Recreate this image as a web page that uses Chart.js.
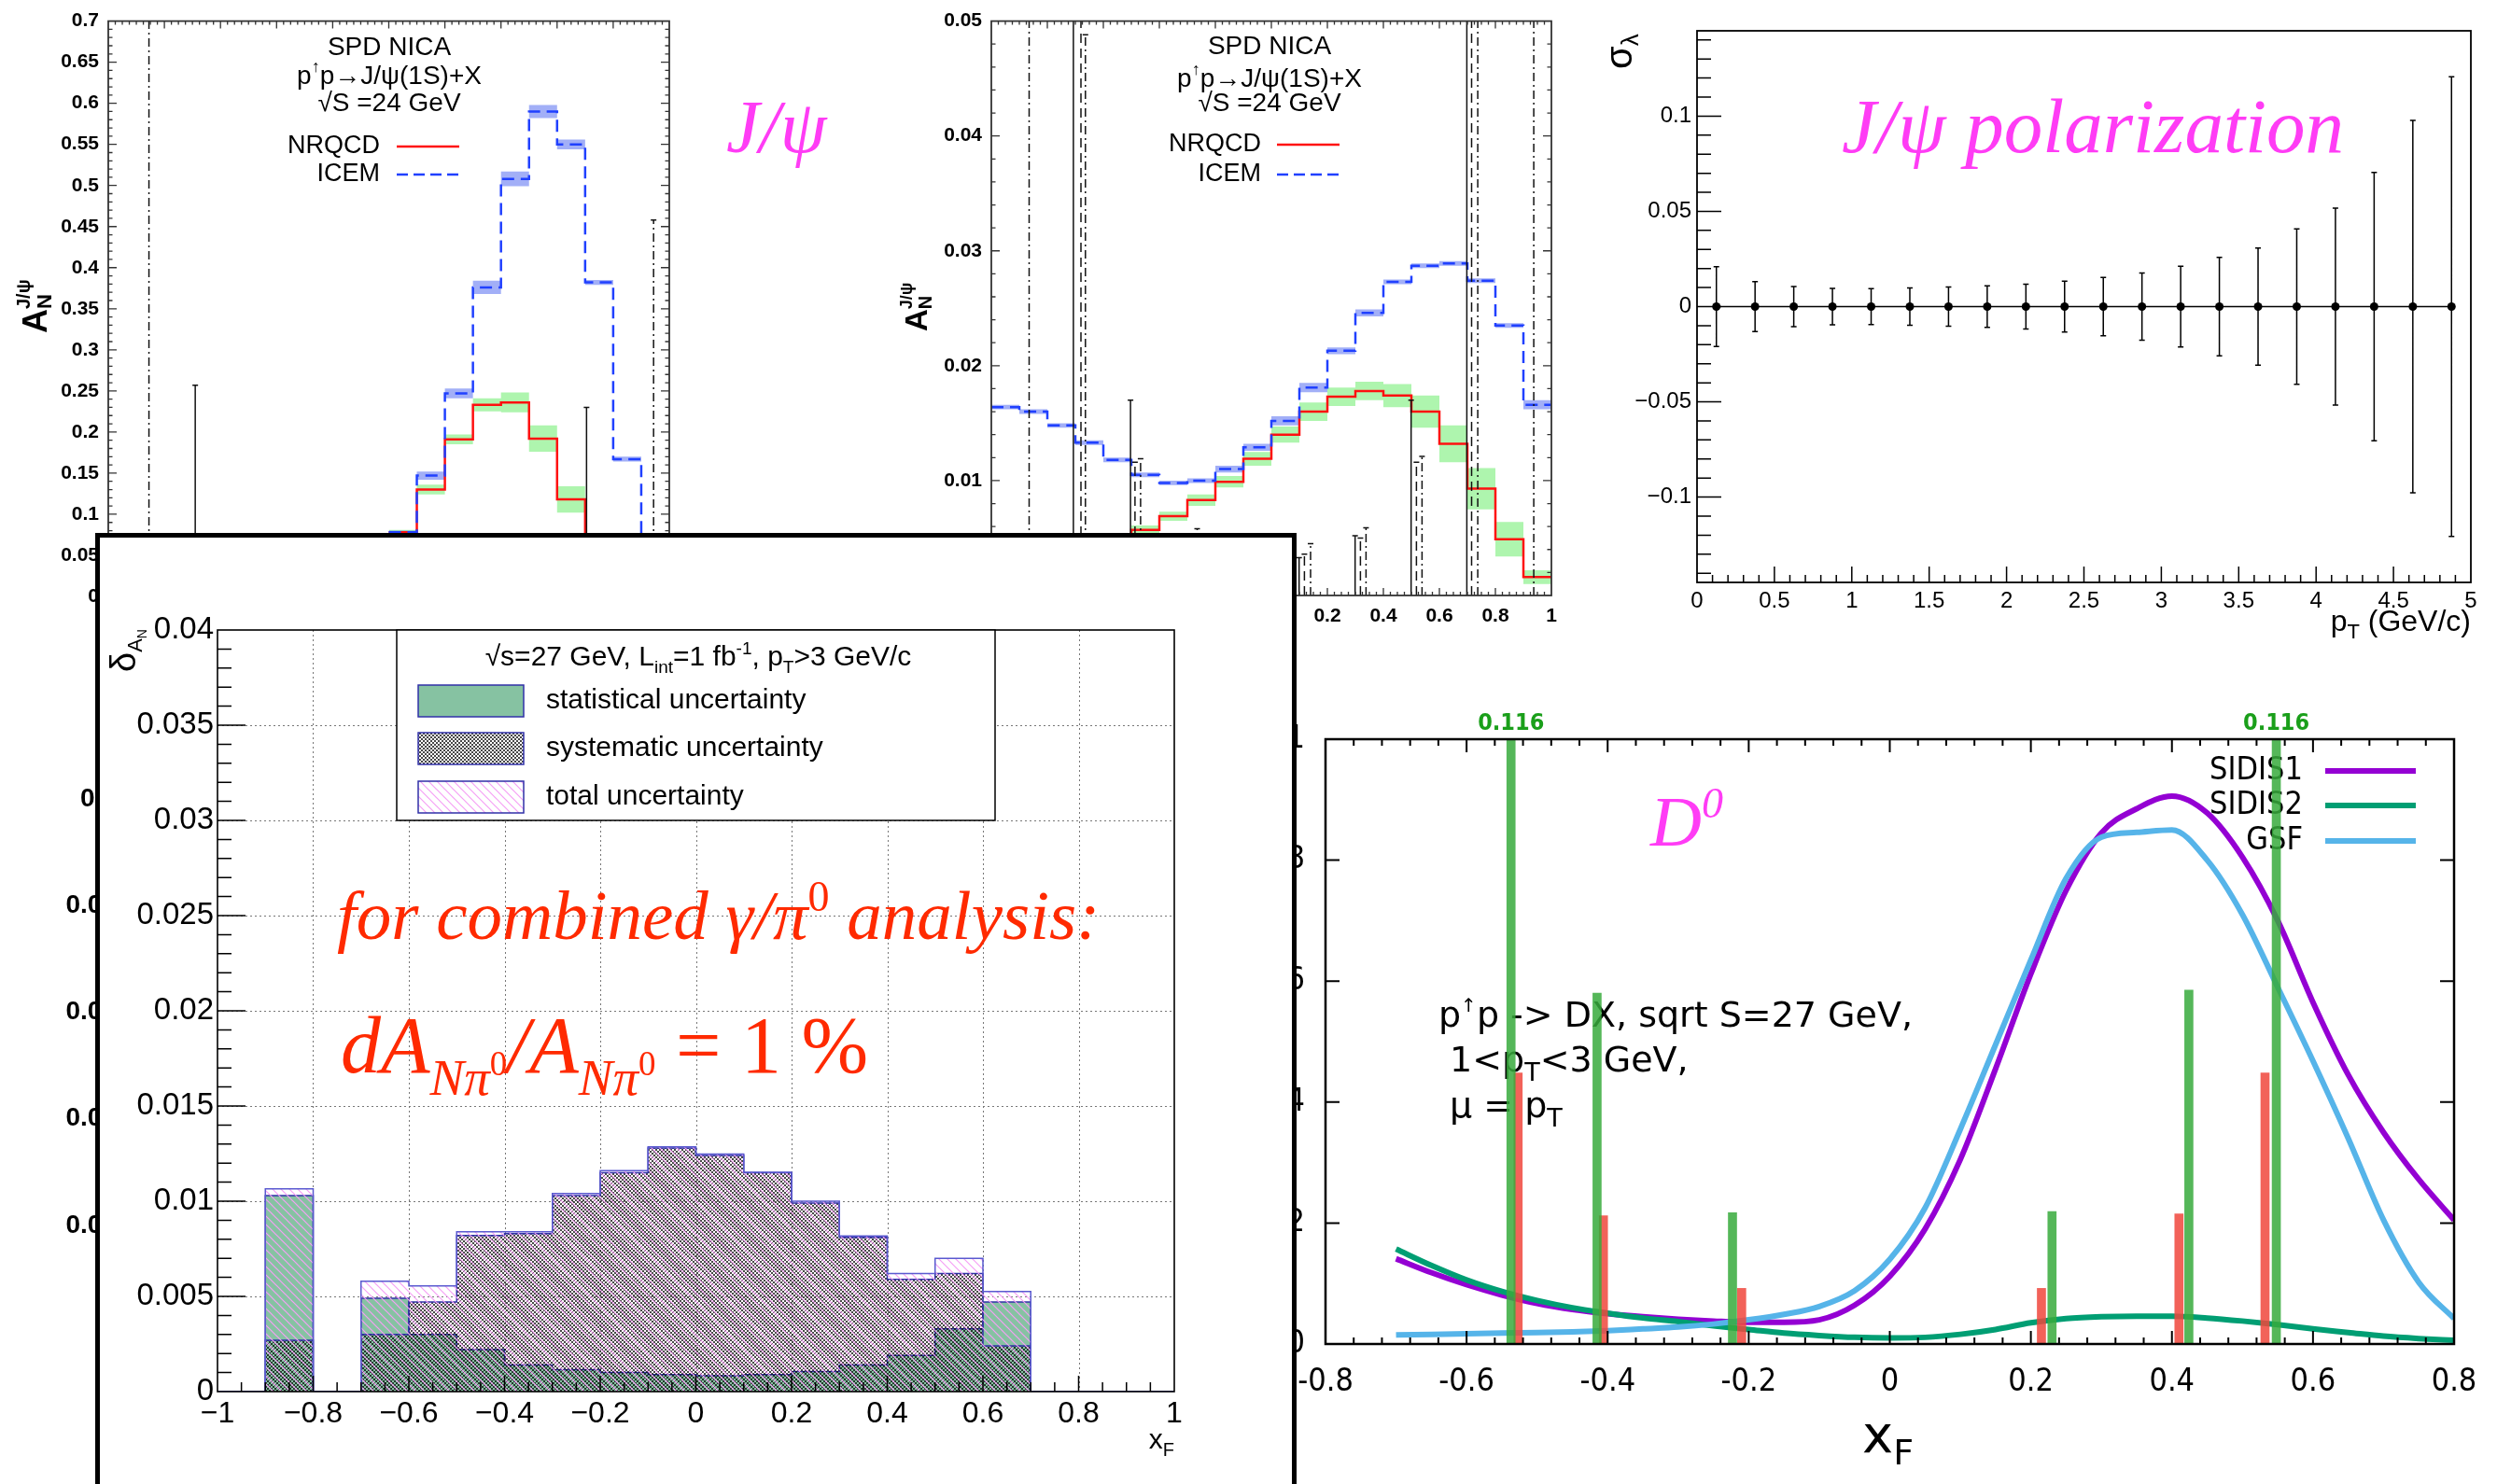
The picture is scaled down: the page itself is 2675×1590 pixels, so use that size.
<!DOCTYPE html>
<html>
<head>
<meta charset="utf-8">
<title>SPD NICA asymmetries</title>
<script src="https://cdn.jsdelivr.net/npm/chart.js@4.4.0/dist/chart.umd.min.js"></script>
<style>
  html, body { margin: 0; padding: 0; background: #fff; }
  body { position: relative; width: 2675px; height: 1590px; overflow: hidden; }
  canvas { position: absolute; }
  #uncBox { position: absolute; left: 102px; top: 571px; width: 1287px; height: 1030px;
            border: 5px solid #000; box-sizing: border-box; background: #fff; }
  #uncBox canvas { left: 0; top: 0; }
</style>
</head>
<body>
<canvas id="under"></canvas>
<canvas id="jpsiA"></canvas>
<canvas id="jpsiB"></canvas>
<canvas id="pol"></canvas>
<canvas id="dmeson"></canvas>
<div id="uncBox"><canvas id="unc"></canvas></div>
<script>
const SANS = "'Liberation Sans', Arial, sans-serif";
const GNU = "'DejaVu Sans Condensed', 'DejaVu Sans', sans-serif";
const GNUW = "'DejaVu Sans', sans-serif";
const SERIF = "'Liberation Serif', 'DejaVu Serif', serif";
const PINK = '#ff3cf5';

// ---- J/psi A_N, NRQCD vs ICEM, left panel (bin low edges, width 0.1) ----
const binsA = [0.0, 0.1, 0.2, 0.3, 0.4, 0.5, 0.6, 0.7, 0.8, 0.9];
const icemA = [0.078, 0.147, 0.247, 0.376, 0.508, 0.590, 0.550, 0.382, 0.167, 0.040];
const icemErrA = [0.002, 0.005, 0.006, 0.008, 0.009, 0.008, 0.006, 0.003, 0.003, 0.002];
const nrqcdA = [0.078, 0.130, 0.191, 0.233, 0.236, 0.192, 0.118, 0.050, 0.030, 0.020];
const nrqcdErrA = [0.003, 0.006, 0.006, 0.008, 0.012, 0.016, 0.016, 0.008, 0.004, 0.002];
const barXA = [-0.855, -0.69, 0.705, 0.944];
const barTopA = [0.70, 0.257, 0.230, 0.458];
const barStyleA = ['dashdot', 'solid', 'solid', 'dashdot'];

// ---- J/psi A_N, middle panel ----
const binsB = [-1.0, -0.9, -0.8, -0.7, -0.6, -0.5, -0.4, -0.3, -0.2, -0.1, 0.0, 0.1, 0.2, 0.3, 0.4, 0.5, 0.6, 0.7, 0.8, 0.9];
const icemB = [0.0164, 0.0160, 0.0148, 0.0133, 0.0118, 0.0105, 0.0098, 0.0100, 0.0110, 0.0129,
               0.0152, 0.0181, 0.0213, 0.0246, 0.0273, 0.0287, 0.0289, 0.0274, 0.0235, 0.0166];
const icemErrB = [0.0002, 0.0002, 0.0002, 0.0002, 0.0002, 0.0002, 0.0002, 0.0002, 0.0003, 0.0003,
                  0.0004, 0.0004, 0.0003, 0.0003, 0.0002, 0.0002, 0.0002, 0.0002, 0.0002, 0.0004];
const nrqcdBinsB = [-0.6, -0.5, -0.4, -0.3, -0.2, -0.1, 0.0, 0.1, 0.2, 0.3, 0.4, 0.5, 0.6, 0.7, 0.8, 0.9];
const nrqcdB = [0.0040, 0.0057, 0.0069, 0.0083, 0.0099, 0.0119, 0.0140, 0.0160, 0.0173, 0.0178,
                0.0174, 0.0160, 0.0132, 0.0093, 0.0049, 0.0016];
const nrqcdErrB = [0.0003, 0.0004, 0.0004, 0.0005, 0.0005, 0.0006, 0.0007, 0.0008, 0.0008, 0.0008,
                   0.0010, 0.0014, 0.0016, 0.0018, 0.0015, 0.0006];
const barXB = [-0.865, -0.707, -0.68, -0.664, -0.503, -0.487, -0.467, -0.265, 0.099, 0.118, 0.14,
               0.299, 0.318, 0.338, 0.499, 0.518, 0.538, 0.698, 0.715, 0.737, 0.937];
const barTopB = [0.05, 0.05, 0.05, 0.0488, 0.0170, 0.0116, 0.0119, 0.0058, 0.0033, 0.0036, 0.0045,
                 0.0052, 0.0050, 0.0059, 0.0170, 0.0116, 0.0121, 0.05, 0.05, 0.05, 0.05];
const barStyleB = ['dashdot', 'solid', 'dash', 'dashdot', 'solid', 'dash', 'dashdot', 'dashdot', 'solid', 'dash', 'dashdot',
                   'solid', 'dash', 'dashdot', 'solid', 'dash', 'dashdot', 'solid', 'dash', 'dashdot', 'dashdot'];

// ---- J/psi polarization ----
const polPt = [0.125, 0.375, 0.625, 0.875, 1.125, 1.375, 1.625, 1.875, 2.125, 2.375,
               2.625, 2.875, 3.125, 3.375, 3.625, 3.875, 4.125, 4.375, 4.625, 4.875];
const polVal = [0, 0, 0, 0, 0, 0, 0, 0, 0, 0, 0, 0, 0, 0, 0, 0, 0, 0, 0, 0];
const polErr = [0.0210, 0.0131, 0.0105, 0.0096, 0.0094, 0.0098, 0.0103, 0.0109, 0.0118, 0.0133,
                0.0153, 0.0177, 0.0212, 0.0258, 0.0308, 0.0408, 0.0517, 0.0705, 0.0978, 0.1207];

// ---- pi0 / gamma uncertainties vs x_F (bin low edges, width 0.1) ----
const xfBins = [-1.0, -0.9, -0.8, -0.7, -0.6, -0.5, -0.4, -0.3, -0.2, -0.1, 0.0, 0.1, 0.2, 0.3, 0.4, 0.5, 0.6, 0.7, 0.8, 0.9];
const statUnc = [0, 0.0103, 0, 0.0049, 0.0030, 0.0022, 0.0014, 0.00115, 0.0010, 0.0009,
                 0.00083, 0.0009, 0.00105, 0.0014, 0.0019, 0.0033, 0.0047, 0, 0, 0];
const sysUnc = [0, 0.0027, 0, 0.0030, 0.0047, 0.0082, 0.0083, 0.0103, 0.0115, 0.0128,
                0.0124, 0.0115, 0.0099, 0.0081, 0.0059, 0.0062, 0.0024, 0, 0, 0];
const totUnc = [0, 0.01065, 0, 0.0058, 0.00555, 0.0084, 0.0084, 0.0104, 0.0116, 0.01286,
                0.01247, 0.01152, 0.0100, 0.00817, 0.0062, 0.0070, 0.00526, 0, 0, 0];

// ---- D0 A_N curves and projected errors ----
const d0X = [-0.70, -0.65, -0.60, -0.55, -0.50, -0.45, -0.40, -0.35, -0.30, -0.25, -0.20, -0.15, -0.10, -0.05,
             0.00, 0.05, 0.10, 0.15, 0.20, 0.25, 0.30, 0.35, 0.40, 0.45, 0.50, 0.55, 0.60, 0.65, 0.70, 0.75, 0.80];
const sidis1 = [0.0141, 0.0118, 0.0098, 0.0081, 0.0067, 0.0057, 0.0050, 0.0045, 0.0041, 0.0038, 0.0036, 0.0036, 0.0040, 0.0064,
                0.0112, 0.0190, 0.0305, 0.0455, 0.0612, 0.0750, 0.0845, 0.0885, 0.0906, 0.0878, 0.0805, 0.0700, 0.0565,
                0.0445, 0.0350, 0.0272, 0.0205];
const sidis2 = [0.0157, 0.0130, 0.0106, 0.0087, 0.0072, 0.0060, 0.0051, 0.0043, 0.0037, 0.0030, 0.0024, 0.0018, 0.0014, 0.0011,
                0.0010, 0.0011, 0.0016, 0.0024, 0.0035, 0.0042, 0.0045, 0.0046, 0.0046, 0.0043, 0.0038, 0.0032, 0.0025,
                0.0019, 0.0013, 0.0009, 0.0006];
const gsf = [0.0015, 0.0016, 0.0017, 0.0018, 0.0019, 0.0020, 0.0022, 0.0025, 0.0028, 0.0033, 0.0040, 0.0049, 0.0062, 0.0088,
             0.0140, 0.0225, 0.0355, 0.0495, 0.0635, 0.0770, 0.0838, 0.0846, 0.0850, 0.0800, 0.0710, 0.0590, 0.0468,
             0.0340, 0.0205, 0.0102, 0.0042];
const greenBarX = [-0.537, -0.415, -0.223, 0.230, 0.424, 0.548];
const greenBarY = [0.116, 0.058, 0.0217, 0.0219, 0.0585, 0.116];
const redBarX = [-0.527, -0.406, -0.210, 0.215, 0.410, 0.532];
const redBarY = [0.0448, 0.0212, 0.0092, 0.0092, 0.0215, 0.0448];

// tick positions
const seq = (a, b, step) => {
  const out = [];
  const n = Math.round((b - a) / step);
  for (let i = 0; i <= n; i++) out.push(+(a + i * step).toFixed(6));
  return out;
};
const plain = v => String(+(+v).toFixed(4));
const rootFmt = v => plain(v).replace('-', '\u2212');

// step outline: each value holds from its low edge to the next edge
function histPts(lo, width, vals) {
  const pts = lo.map((x, i) => ({ x, y: vals[i] }));
  pts.push({ x: +(lo[lo.length - 1] + width).toFixed(6), y: vals[vals.length - 1] });
  return pts;
}

function axis(s, isX, size) {
  return {
    type: 'linear', position: isX ? 'bottom' : 'left', min: s.min, max: s.max, offset: false,
    grid: { display: false, drawTicks: false, offset: false },
    border: { display: false },
    afterBuildTicks: sc => { sc.ticks = s.ticks.map(v => ({ value: v })); },
    afterFit: sc => { if (isX) sc.height = size; else sc.width = size; },
    ticks: { display: s.show !== false, autoSkip: false, maxRotation: 0, minRotation: 0,
             padding: s.pad || 0, color: '#000', font: s.font, callback: s.fmt || plain },
  };
}

function mount(id, box, area, scales, datasets, plugins) {
  const cv = document.getElementById(id);
  cv.width = box.w; cv.height = box.h;
  cv.style.width = box.w + 'px'; cv.style.height = box.h + 'px';
  if (!box.inside) { cv.style.left = box.x + 'px'; cv.style.top = box.y + 'px'; }
  return new Chart(cv, {
    type: 'line',
    data: { datasets },
    options: {
      responsive: false, animation: false, devicePixelRatio: 1,
      layout: { padding: { top: area.t - box.y, right: box.x + box.w - area.r, left: 0, bottom: 0 } },
      plugins: { legend: { display: false }, tooltip: { enabled: false } },
      scales: { x: axis(scales.x, true, box.y + box.h - area.b), y: axis(scales.y, false, area.l - box.x) },
    },
    plugins: plugins || [],
  });
}

function rich(ctx, parts, x, y, align) {
  let w = 0;
  for (const p of parts) { ctx.font = p[1]; if (!p[3]) w += ctx.measureText(p[0]).width; }
  let cx = align === 'center' ? x - w / 2 : align === 'right' ? x - w : x;
  ctx.textAlign = 'left';
  ctx.textBaseline = 'alphabetic';
  for (const p of parts) {
    ctx.font = p[1];
    ctx.fillText(p[0], cx, y + (p[2] || 0));
    if (!p[3]) cx += ctx.measureText(p[0]).width;
  }
}

function drawFrame(chart, f) {
  const { ctx, chartArea: a, scales: { x, y } } = chart;
  ctx.save();
  ctx.strokeStyle = f.color;
  ctx.lineWidth = f.tickWidth;
  ctx.setLineDash([]);
  ctx.beginPath();
  const mark = (x1, y1, x2, y2) => { ctx.moveTo(x1, y1); ctx.lineTo(x2, y2); };
  [[f.x.major, f.x.majLen], [f.x.minor, f.x.minLen]].forEach(([vals, len]) => {
    (vals || []).forEach(v => {
      const p = x.getPixelForValue(v);
      if (p <= a.left + 1 || p >= a.right - 1) return;
      if (f.x.bottom !== false) mark(p, a.bottom, p, a.bottom - len);
      if (f.x.top) mark(p, a.top, p, a.top + len);
    });
  });
  [[f.y.major, f.y.majLen], [f.y.minor, f.y.minLen]].forEach(([vals, len]) => {
    (vals || []).forEach(v => {
      const p = y.getPixelForValue(v);
      if (p <= a.top + 1 || p >= a.bottom - 1) return;
      if (f.y.left !== false) mark(a.left, p, a.left + len, p);
      if (f.y.right) mark(a.right, p, a.right - len, p);
    });
  });
  ctx.stroke();
  ctx.lineWidth = f.width;
  ctx.strokeRect(a.left, a.top, a.right - a.left, a.bottom - a.top);
  ctx.restore();
}

const DASH = { solid: [], dash: [10, 6], dashdot: [9, 4, 2, 4] };
function drawBars(chart, xs, tops, styles) {
  const { ctx, chartArea: a, scales: { x, y } } = chart;
  ctx.save();
  ctx.beginPath(); ctx.rect(a.left, a.top, a.right - a.left, a.bottom - a.top); ctx.clip();
  ctx.strokeStyle = '#111'; ctx.lineWidth = 1.5;
  xs.forEach((v, i) => {
    const px = x.getPixelForValue(v), py = y.getPixelForValue(tops[i]);
    ctx.setLineDash(DASH[styles[i]]);
    ctx.beginPath(); ctx.moveTo(px, a.bottom); ctx.lineTo(px, py); ctx.stroke();
    if (tops[i] < y.max) {
      ctx.setLineDash([]);
      ctx.beginPath(); ctx.moveTo(px - 3, py); ctx.lineTo(px + 3, py); ctx.stroke();
    }
  });
  ctx.restore();
}

function lineKey(ctx, label, textRight, yMid, x1, x2, color, dash, font) {
  ctx.font = font; ctx.fillStyle = '#000';
  ctx.textAlign = 'right'; ctx.textBaseline = 'middle';
  ctx.fillText(label, textRight, yMid);
  ctx.strokeStyle = color; ctx.lineWidth = 2.5; ctx.setLineDash(dash);
  ctx.beginPath(); ctx.moveTo(x1, yMid); ctx.lineTo(x2, yMid); ctx.stroke();
  ctx.setLineDash([]);
}

function jpsiDecor(box, t) {
  return {
    id: 'jpsiDecor',
    afterDatasetsDraw(chart) {
      drawBars(chart, t.barX, t.barTop, t.barStyle);
      drawFrame(chart, t.frame);
      const ctx = chart.ctx;
      ctx.save();
      ctx.translate(-box.x, -box.y);
      ctx.fillStyle = '#000';
      const f = `28px ${SANS}`, fs = `18px ${SANS}`;
      rich(ctx, [['SPD NICA', f]], t.cx, t.base[0], 'center');
      rich(ctx, [['p', f], ['\u2191', fs, -13], ['p\u2192J/\u03c8(1S)+X', f]], t.cx, t.base[1], 'center');
      rich(ctx, [['\u221aS =24 GeV', f]], t.cx, t.base[2], 'center');
      lineKey(ctx, 'NRQCD', t.keyX, t.keyY[0], t.keyLine[0], t.keyLine[1], '#ff1010', [], `27px ${SANS}`);
      lineKey(ctx, 'ICEM', t.keyX, t.keyY[1], t.keyLine[0], t.keyLine[1], '#2040ff', [12, 6], `27px ${SANS}`);
      ctx.save();
      ctx.translate(t.yt[0], t.yt[1]);
      ctx.rotate(-Math.PI / 2);
      ctx.fillStyle = '#000';
      rich(ctx, [['A', `bold ${t.ys}px ${SANS}`], ['N', `bold ${Math.round(t.ys * 0.62)}px ${SANS}`, 5, true],
                 ['J/\u03c8', `bold ${Math.round(t.ys * 0.55)}px ${SANS}`, -t.ys * 0.5]], 0, 0, 'left');
      ctx.restore();
      if (t.tag) {
        ctx.fillStyle = PINK;
        rich(ctx, [[t.tag, `italic 80px ${SERIF}`]], t.tagX, t.tagY, 'left');
      }
      ctx.restore();
    },
  };
}

function band(lo, width, vals, errs, color) {
  return [
    { data: histPts(lo, width, vals.map((v, i) => v + errs[i])), stepped: 'before', borderWidth: 0,
      borderColor: 'transparent', pointRadius: 0, fill: '+1', backgroundColor: color },
    { data: histPts(lo, width, vals.map((v, i) => v - errs[i])), stepped: 'before', borderWidth: 0,
      borderColor: 'transparent', pointRadius: 0, fill: false },
  ];
}

const TICK_TOP = { family: SANS, size: 21, weight: 'bold' };

// ---------- chart hidden under the framed panel (only its labels peek out) ----------
const boxU = { x: 0, y: 780, w: 700, h: 760 };
mount('under', boxU, { l: 140, t: 856, r: 680, b: 1427 }, {
  x: { min: -1, max: 1, ticks: [], show: false },
  y: { min: 0, max: 0.1, ticks: seq(0, 0.1, 0.02), pad: 15, font: { family: SANS, size: 28, weight: 'bold' } },
}, []);

// ---------- top-left J/psi ----------
const boxA = { x: 0, y: 0, w: 940, h: 700 };
const topFrame = (ymax, ymaj, ymin) => ({
  color: '#333', width: 1.8, tickWidth: 1.3,
  x: { major: seq(-1, 1, 0.2), minor: seq(-1, 1, 0.025), majLen: 8, minLen: 4, top: true },
  y: { major: seq(0, ymax, ymaj), minor: seq(0, ymax, ymin), majLen: 9, minLen: 4.5, right: true },
});
mount('jpsiA', boxA, { l: 116, t: 17, r: 717, b: 639 }, {
  x: { min: -1, max: 1, ticks: seq(-1, 1, 0.2), pad: 10, font: TICK_TOP },
  y: { min: 0, max: 0.7, ticks: seq(0, 0.7, 0.05), pad: 10, font: TICK_TOP },
}, [
  { data: histPts(binsA, 0.1, icemA), stepped: 'before', borderColor: '#2040ff', borderWidth: 2.5,
    borderDash: [13, 7], pointRadius: 0, fill: false },
  { data: histPts(binsA, 0.1, nrqcdA), stepped: 'before', borderColor: '#ff1010', borderWidth: 2.5,
    pointRadius: 0, fill: false },
  ...band(binsA, 0.1, icemA, icemErrA, 'rgba(70,95,240,0.5)'),
  ...band(binsA, 0.1, nrqcdA, nrqcdErrA, 'rgba(120,238,120,0.6)'),
], [jpsiDecor(boxA, {
  barX: barXA, barTop: barTopA, barStyle: barStyleA, frame: topFrame(0.7, 0.05, 0.01),
  cx: 417, base: [59, 90, 119], keyX: 407, keyY: [157, 187], keyLine: [425, 492],
  yt: [50, 357], ys: 36, tag: 'J/\u03c8', tagX: 778, tagY: 163,
})]);

// ---------- top-middle J/psi ----------
const boxB = { x: 940, y: 0, w: 740, h: 700 };
mount('jpsiB', boxB, { l: 1062, t: 17, r: 1662, b: 638 }, {
  x: { min: -1, max: 1, ticks: seq(-1, 1, 0.2), pad: 10, font: TICK_TOP },
  y: { min: 0, max: 0.05, ticks: seq(0, 0.05, 0.01), pad: 10, font: TICK_TOP },
}, [
  { data: histPts(binsB, 0.1, icemB), stepped: 'before', borderColor: '#2040ff', borderWidth: 2.5,
    borderDash: [13, 7], pointRadius: 0, fill: false },
  { data: histPts(nrqcdBinsB, 0.1, nrqcdB), stepped: 'before', borderColor: '#ff1010', borderWidth: 2.5,
    pointRadius: 0, fill: false },
  ...band(binsB, 0.1, icemB, icemErrB, 'rgba(70,95,240,0.5)'),
  ...band(nrqcdBinsB, 0.1, nrqcdB, nrqcdErrB, 'rgba(120,238,120,0.6)'),
], [jpsiDecor(boxB, {
  barX: barXB, barTop: barTopB, barStyle: barStyleB, frame: topFrame(0.05, 0.01, 0.002),
  cx: 1360, base: [58, 93, 119], keyX: 1351, keyY: [155, 187], keyLine: [1368, 1435],
  yt: [993, 355], ys: 33, tag: null,
})]);

// ---------- J/psi polarization ----------
const boxP = { x: 1690, y: 0, w: 985, h: 700 };
mount('pol', boxP, { l: 1818, t: 33, r: 2647, b: 624 }, {
  x: { min: 0, max: 5, ticks: seq(0, 5, 0.5), pad: 6, font: { family: SANS, size: 24 }, fmt: rootFmt },
  y: { min: -0.1448, max: 0.1448, ticks: seq(-0.1, 0.1, 0.05), pad: 6, font: { family: SANS, size: 24 }, fmt: rootFmt },
}, [
  { data: polPt.map((x, i) => ({ x, y: polVal[i] })), borderColor: '#000', borderWidth: 1.5,
    pointRadius: 4.5, pointBackgroundColor: '#000', pointBorderWidth: 0, fill: false },
], [{
  id: 'polDecor',
  afterDatasetsDraw(chart) {
    const { ctx, scales: { x, y } } = chart;
    ctx.save();
    ctx.strokeStyle = '#000'; ctx.lineWidth = 1.5; ctx.beginPath();
    polPt.forEach((pt, i) => {
      const px = x.getPixelForValue(pt);
      const y1 = y.getPixelForValue(polVal[i] + polErr[i]);
      const y2 = y.getPixelForValue(polVal[i] - polErr[i]);
      ctx.moveTo(px, y1); ctx.lineTo(px, y2);
      ctx.moveTo(px - 3, y1); ctx.lineTo(px + 3, y1);
      ctx.moveTo(px - 3, y2); ctx.lineTo(px + 3, y2);
    });
    ctx.stroke();
    ctx.restore();
    drawFrame(chart, {
      color: '#000', width: 1.8, tickWidth: 1.5,
      x: { major: seq(0, 5, 0.5), minor: seq(0, 5, 0.1), majLen: 17, minLen: 8 },
      y: { major: seq(-0.1, 0.1, 0.05), minor: seq(-0.14, 0.14, 0.01), majLen: 26, minLen: 15 },
    });
    ctx.save();
    ctx.translate(-boxP.x, -boxP.y);
    ctx.fillStyle = '#000';
    rich(ctx, [['p', `32px ${SANS}`], ['T', `22px ${SANS}`, 8], [' (GeV/c)', `32px ${SANS}`]], 2647, 676, 'right');
    ctx.save();
    ctx.translate(1748, 74); ctx.rotate(-Math.PI / 2);
    rich(ctx, [['\u03c3', `40px ${SANS}`], ['\u03bb', `26px ${SANS}`, 7]], 0, 0, 'left');
    ctx.restore();
    ctx.fillStyle = PINK;
    rich(ctx, [['J/\u03c8 polarization', `italic 83px ${SERIF}`]], 1973, 163, 'left');
    ctx.restore();
  },
}]);

// ---------- D0 A_N ----------
const boxD = { x: 1300, y: 740, w: 1375, h: 850 };
mount('dmeson', boxD, { l: 1420, t: 792, r: 2629, b: 1440 }, {
  x: { min: -0.8, max: 0.8, ticks: seq(-0.8, 0.8, 0.2), pad: 21, font: { family: GNU, size: 34 } },
  y: { min: 0, max: 0.1, ticks: seq(0, 0.1, 0.02), pad: 22, font: { family: GNU, size: 34 } },
}, [
  { type: 'bar', data: greenBarX.map((x, i) => ({ x, y: greenBarY[i] })), backgroundColor: 'rgba(55,170,60,0.85)',
    barThickness: 9, grouped: false, borderWidth: 0, order: 0 },
  { type: 'bar', data: redBarX.map((x, i) => ({ x, y: redBarY[i] })), backgroundColor: 'rgba(240,70,60,0.85)',
    barThickness: 9, grouped: false, borderWidth: 0, order: 0 },
  { data: d0X.map((x, i) => ({ x, y: gsf[i] })), borderColor: '#56b4e9', borderWidth: 6, pointRadius: 0,
    cubicInterpolationMode: 'monotone', fill: false, order: 1 },
  { data: d0X.map((x, i) => ({ x, y: sidis2[i] })), borderColor: '#009e73', borderWidth: 6, pointRadius: 0,
    cubicInterpolationMode: 'monotone', fill: false, order: 1 },
  { data: d0X.map((x, i) => ({ x, y: sidis1[i] })), borderColor: '#9400d3', borderWidth: 6, pointRadius: 0,
    cubicInterpolationMode: 'monotone', fill: false, order: 1 },
], [{
  id: 'dDecor',
  beforeDatasetsDraw(chart) {
    const ctx = chart.ctx;
    ctx.save();
    ctx.translate(-boxD.x, -boxD.y);
    const keys = [['SIDIS1', '#9400d3', 826], ['SIDIS2', '#009e73', 863], ['GSF', '#56b4e9', 901]];
    keys.forEach(([label, color, yy]) => {
      ctx.font = `34px ${GNU}`; ctx.fillStyle = '#000'; ctx.textAlign = 'right'; ctx.textBaseline = 'middle';
      ctx.fillText(label, 2467, yy);
      ctx.strokeStyle = color; ctx.lineWidth = 6;
      ctx.beginPath(); ctx.moveTo(2491, yy); ctx.lineTo(2588, yy); ctx.stroke();
    });
    ctx.fillStyle = '#000';
    const f = `38px ${GNUW}`, fs = `27px ${GNUW}`;
    rich(ctx, [['p', f], ['\u2191', `20px ${GNUW}`, -16], ['p -> DX, sqrt S=27 GeV,', f]], 1541, 1100, 'left');
    rich(ctx, [['1<p', f], ['T', fs, 10], ['<3 GeV,', f]], 1553, 1148, 'left');
    rich(ctx, [['\u03bc = p', f], ['T', fs, 10]], 1553, 1197, 'left');
    ctx.fillStyle = PINK;
    rich(ctx, [['D', `italic 76px ${SERIF}`], ['0', `italic 46px ${SERIF}`, -30]], 1768, 906, 'left');
    ctx.restore();
  },
  afterDatasetsDraw(chart) {
    drawFrame(chart, {
      color: '#000', width: 2.5, tickWidth: 2,
      x: { major: seq(-0.8, 0.8, 0.2), minor: seq(-0.8, 0.8, 0.04), majLen: 14, minLen: 7, top: true },
      y: { major: seq(0, 0.1, 0.02), minor: [], majLen: 15, minLen: 0, right: true },
    });
    const { ctx, chartArea: a, scales: { x, y } } = chart;
    ctx.save();
    ctx.fillStyle = '#1a9f1a'; ctx.font = `bold 25px ${GNU}`;
    ctx.textAlign = 'center'; ctx.textBaseline = 'alphabetic';
    greenBarX.forEach((v, i) => {
      if (greenBarY[i] > y.max) ctx.fillText(greenBarY[i].toFixed(3), x.getPixelForValue(v), a.top - 10);
    });
    ctx.translate(-boxD.x, -boxD.y);
    ctx.fillStyle = '#000';
    rich(ctx, [['x', `56px ${GNUW}`], ['F', `38px ${GNUW}`, 13]], 1995, 1556, 'left');
    ctx.restore();
  },
}]);

// ---------- framed panel: uncertainties on A_N ----------
const boxX = { x: 107, y: 576, w: 1277, h: 1014, inside: true };
const probe = document.createElement('canvas').getContext('2d');
function crossPattern() {
  const c = document.createElement('canvas'); c.width = c.height = 4;
  const g = c.getContext('2d'); g.fillStyle = 'rgba(0,0,0,0.72)';
  [[0, 0], [1, 1], [2, 2], [3, 3], [3, 0], [2, 1], [1, 2], [0, 3]].forEach(([i, j]) => g.fillRect(i, j, 1, 1));
  return probe.createPattern(c, 'repeat');
}
function diagPattern() {
  const c = document.createElement('canvas'); c.width = c.height = 9;
  const g = c.getContext('2d'); g.strokeStyle = '#f5a0f5'; g.lineWidth = 1.2;
  [-9, 0, 9].forEach(o => { g.beginPath(); g.moveTo(o - 1, -1); g.lineTo(o + 10, 10); g.stroke(); });
  return probe.createPattern(c, 'repeat');
}
const STAT_FILL = '#86c2a2';
const SYS_FILL = crossPattern();
const TOT_FILL = diagPattern();
const HIST_LINE = '#3030a8';

mount('unc', boxX, { l: 233, t: 675, r: 1258, b: 1491 }, {
  x: { min: -1, max: 1, ticks: seq(-1, 1, 0.2), pad: 5, font: { family: SANS, size: 32 }, fmt: rootFmt },
  y: { min: 0, max: 0.04, ticks: seq(0, 0.04, 0.005), pad: 4, font: { family: SANS, size: 33 }, fmt: rootFmt },
}, [
  { data: histPts(xfBins, 0.1, totUnc), stepped: 'before', borderColor: '#5a5ad0', borderWidth: 1.5,
    pointRadius: 0, fill: 'origin', backgroundColor: TOT_FILL },
  { data: histPts(xfBins, 0.1, sysUnc), stepped: 'before', borderColor: HIST_LINE, borderWidth: 1.5,
    pointRadius: 0, fill: 'origin', backgroundColor: SYS_FILL },
  { data: histPts(xfBins, 0.1, statUnc), stepped: 'before', borderColor: HIST_LINE, borderWidth: 1.5,
    pointRadius: 0, fill: 'origin', backgroundColor: STAT_FILL },
], [{
  id: 'uncDecor',
  beforeDatasetsDraw(chart) {
    const { ctx, chartArea: a, scales: { x, y } } = chart;
    ctx.save();
    ctx.strokeStyle = '#777'; ctx.lineWidth = 1; ctx.setLineDash([2, 3]);
    ctx.beginPath();
    seq(-0.8, 0.8, 0.2).forEach(v => { const p = Math.round(x.getPixelForValue(v)) + 0.5; ctx.moveTo(p, a.top); ctx.lineTo(p, a.bottom); });
    seq(0.005, 0.035, 0.005).forEach(v => { const p = Math.round(y.getPixelForValue(v)) + 0.5; ctx.moveTo(a.left, p); ctx.lineTo(a.right, p); });
    ctx.stroke();
    ctx.restore();
  },
  afterDatasetsDraw(chart) {
    drawFrame(chart, {
      color: '#000', width: 1.6, tickWidth: 1.5,
      x: { major: seq(-1, 1, 0.2), minor: seq(-1, 1, 0.05), majLen: 17, minLen: 10 },
      y: { major: seq(0, 0.04, 0.005), minor: seq(0, 0.04, 0.001), majLen: 30, minLen: 15 },
    });
    const ctx = chart.ctx;
    ctx.save();
    ctx.translate(-boxX.x, -boxX.y);
    // legend
    ctx.fillStyle = '#fff'; ctx.fillRect(425, 675, 641, 204);
    ctx.strokeStyle = '#000'; ctx.lineWidth = 1.5; ctx.strokeRect(425, 675, 641, 204);
    ctx.fillStyle = '#000';
    const f = `30px ${SANS}`, fs = `19px ${SANS}`;
    rich(ctx, [['\u221as=27 GeV, L', f], ['int', fs, 8], ['=1 fb', f], ['-1', fs, -12], [', p', f], ['T', fs, 8],
               ['>3 GeV/c', f]], 748, 713, 'center');
    const rows = [[751, [STAT_FILL], 'statistical uncertainty'],
                  [802, ['#fff', SYS_FILL], 'systematic uncertainty'],
                  [854, ['#fff', TOT_FILL], 'total uncertainty']];
    rows.forEach(([yy, fills, label]) => {
      fills.forEach(fl => { ctx.fillStyle = fl; ctx.fillRect(448, yy - 17, 113, 34); });
      ctx.strokeStyle = HIST_LINE; ctx.lineWidth = 1.5; ctx.strokeRect(448, yy - 17, 113, 34);
      ctx.fillStyle = '#000'; ctx.font = f; ctx.textAlign = 'left'; ctx.textBaseline = 'middle';
      ctx.fillText(label, 585, yy);
    });
    // axis titles
    ctx.save();
    ctx.translate(145, 720); ctx.rotate(-Math.PI / 2);
    rich(ctx, [['\u03b4', `38px ${SANS}`], ['A', `22px ${SANS}`, 7], ['N', `14px ${SANS}`, 12]], 0, 0, 'left');
    ctx.restore();
    rich(ctx, [['x', `30px ${SANS}`], ['F', `20px ${SANS}`, 8]], 1258, 1552, 'right');
    // annotations
    ctx.fillStyle = '#ff2a00';
    rich(ctx, [['for combined \u03b3/\u03c0', `italic 75px ${SERIF}`], ['0', `46px ${SERIF}`, -30],
               [' analysis:', `italic 75px ${SERIF}`]], 361, 1006, 'left');
    const F = `italic 86px ${SERIF}`, FS = `italic 55px ${SERIF}`, FSS = `37px ${SERIF}`;
    rich(ctx, [['dA', F], ['N\u03c0', FS, 24], ['0', FSS, 3], ['/A', F], ['N\u03c0', FS, 24], ['0', FSS, 3],
               [' = 1 %', `86px ${SERIF}`]], 365, 1149, 'left');
    ctx.restore();
  },
}]);
</script>
</body>
</html>
